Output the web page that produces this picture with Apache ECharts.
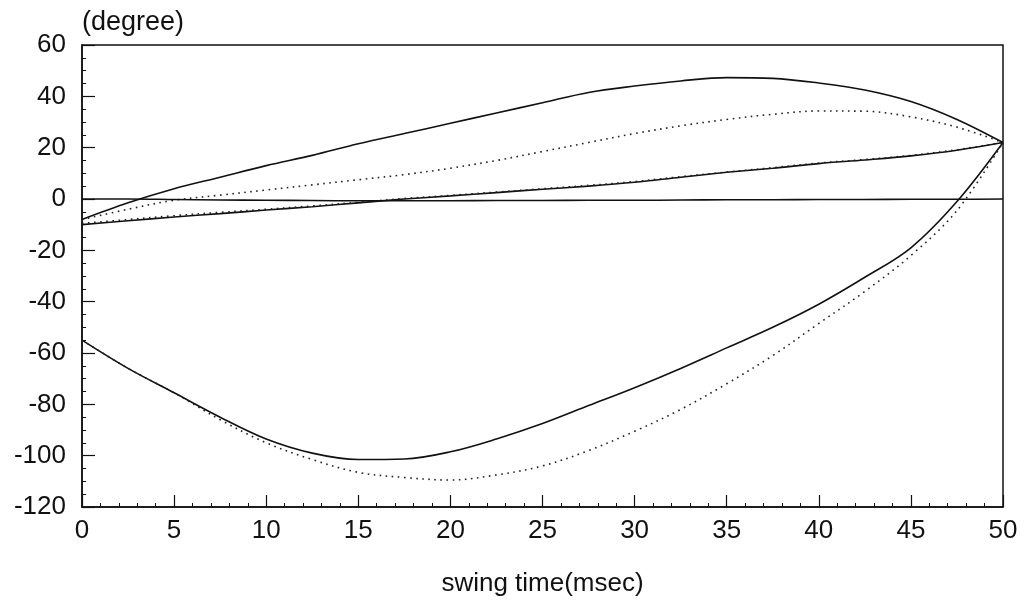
<!DOCTYPE html>
<html>
<head>
<meta charset="utf-8">
<script src="https://cdn.jsdelivr.net/npm/echarts@6/dist/echarts.min.js"></script>
<style>
  html, body { margin: 0; padding: 0; background: #fff; }
  #chart { width: 1025px; height: 602px; }
</style>
</head>
<body>
<div id="chart"></div>
<script>
// swing time (msec)
var times = [0, 2.5, 5, 7.5, 10, 12.5, 15, 17.5, 20, 22.5, 25, 27.5, 30, 32.5, 35, 37.5, 40, 42.5, 45, 47.5, 50];

// angles (degree)
var upperSolid  = [-8, -1.5, 4, 8.5, 13, 17, 21.5, 25.5, 29.5, 33.5, 37.5, 41.5, 44, 46, 47.3, 47, 45.2, 42.5, 38, 31, 22];
var upperDotted = [-8, -4, -0.5, 1.5, 3.5, 5.5, 7.5, 9.5, 12, 15, 18.5, 22, 25.5, 28.5, 31, 33, 34.3, 34.2, 32, 28, 22];
var midSolid    = [-10, -8.5, -7, -5.7, -4.3, -3, -1.5, 0, 1.2, 2.5, 3.8, 5, 6.5, 8.5, 10.4, 12, 13.8, 15.2, 16.8, 19, 22];
var midDotted   = [-9.5, -8, -6.5, -5.2, -4, -2.7, -1.3, 0.2, 1.4, 2.7, 4, 5.3, 6.8, 8.7, 10.5, 12.2, 14, 15.4, 17, 19.2, 22];
var zeroSolid   = [0, 0, -0.2, -0.4, -0.5, -0.6, -0.7, -0.7, -0.7, -0.6, -0.6, -0.5, -0.5, -0.4, -0.3, -0.3, -0.2, -0.2, -0.1, -0.1, 0];
var lowerSolid  = [-55, -66, -75.5, -85, -93.5, -99, -101.5, -101.3, -98.5, -93.5, -87.5, -80.5, -73.5, -66, -58, -50, -41, -30.5, -19, -1, 22];
var lowerDotted = [-55, -66, -75.5, -86, -95, -101.5, -106.5, -108.5, -109.5, -107.5, -104, -98, -90.5, -82, -72, -61, -48.5, -36, -22, -4.5, 22];

var xTicks = { min: 0, max: 50, step: 5 };
var yTicks = { min: -120, max: 60, step: 20 };

function pairs(ys) {
  return times.map(function (t, i) { return [t, ys[i]]; });
}

function solid(ys) {
  return {
    type: 'line', data: pairs(ys), smooth: 0.35, symbol: 'none',
    lineStyle: { color: '#111', width: 1.6, type: 'solid' }
  };
}

function dotted(ys) {
  return {
    type: 'line', data: pairs(ys), smooth: 0.35, symbol: 'none',
    lineStyle: { color: '#222', width: 1.6, type: [1.6, 4.5] }
  };
}

var font = 'Liberation Sans, Arial, Helvetica, sans-serif';

var chart = echarts.init(document.getElementById('chart'));
chart.setOption({
  backgroundColor: '#fff',
  animation: false,
  grid: {
    left: 82, right: 22, top: 45, bottom: 89,
    show: true, borderColor: '#111', borderWidth: 1.5
  },
  xAxis: {
    type: 'value', min: xTicks.min, max: xTicks.max, interval: xTicks.step,
    name: 'swing time(msec)', nameLocation: 'middle', nameGap: 64,
    nameTextStyle: { fontSize: 26, color: '#111', fontFamily: font },
    axisLine: { show: true, onZero: false, lineStyle: { color: '#111', width: 1.5 } },
    axisTick: { show: true, inside: true, length: 12, lineStyle: { color: '#111', width: 1.2 } },
    minorTick: { show: true, splitNumber: 5, length: 4, lineStyle: { color: '#111', width: 1 } },
    axisLabel: { fontSize: 26, color: '#111', fontFamily: font, margin: 11 },
    splitLine: { show: false }
  },
  yAxis: {
    type: 'value', min: yTicks.min, max: yTicks.max, interval: yTicks.step,
    name: '(degree)', nameLocation: 'end', nameGap: 22,
    nameTextStyle: { fontSize: 27, color: '#111', fontFamily: font, align: 'left', verticalAlign: 'middle' },
    axisLine: { show: true, onZero: false, lineStyle: { color: '#111', width: 1.5 } },
    axisTick: { show: true, inside: true, length: 13, lineStyle: { color: '#111', width: 1.2 } },
    minorTick: { show: true, splitNumber: 4, length: 4, lineStyle: { color: '#111', width: 1 } },
    axisLabel: { fontSize: 26, color: '#111', fontFamily: font, margin: 16 },
    splitLine: { show: false }
  },
  series: [
    solid(upperSolid),
    dotted(upperDotted),
    solid(midSolid),
    dotted(midDotted),
    solid(zeroSolid),
    solid(lowerSolid),
    dotted(lowerDotted)
  ]
});
</script>
</body>
</html>
